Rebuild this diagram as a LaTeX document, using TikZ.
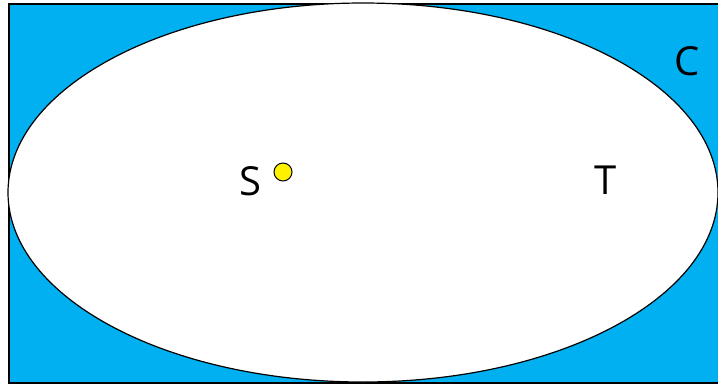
\documentclass[tikz,border=0pt]{standalone}
\usepackage{fontspec}
\setmainfont{Open Sans}
\usetikzlibrary{shapes.geometric}
\definecolor{skyb}{HTML}{00B0F0}
\begin{document}
\begin{tikzpicture}[x=1pt,y=-1pt,
  lbl/.style={font=\fontsize{40}{40}\selectfont, inner sep=0pt, anchor=base}]
\useasboundingbox (0,0) rectangle (718,384);
\node[draw=black, line width=1.5pt, fill=skyb, minimum width=712pt, minimum height=379pt, inner sep=0pt, anchor=north west] (box) at (8,3) {};
\node[draw=black, line width=1.2pt, fill=white, ellipse, minimum width=710pt, minimum height=379pt, inner sep=0pt] (ell) at (363,192.5) {};
\node[draw=black, line width=1pt, fill=yellow, circle, minimum size=18pt, inner sep=0pt] (dot) at (283,172) {};
\node[lbl] (S) at (250,195) {S};
\node[lbl] (T) at (606,194) {T};
\node[lbl] (C) at (687,75) {C};
\end{tikzpicture}
\end{document}
